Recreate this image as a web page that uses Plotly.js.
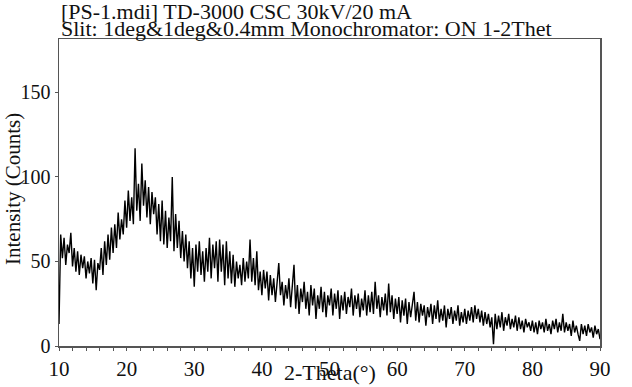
<!DOCTYPE html>
<html lang="en">
<head>
    <meta charset="UTF-8">
    <title>XRD PS-1</title>
    <style>
        body {
            margin: 0;
            background: #fff;
        }

        #plot-container {
            width: 632px;
            height: 387px;
        }
    </style>
</head>
<body>

<div id="plot-container"></div>

<script src="https://cdn.plot.ly/plotly-3.0.1.min.js"></script>
<script>
    // scan start and step (degrees 2-theta)
    var thetaStart = 10;
    var thetaStep = 0.25;

    // intensity, one row per 5 degrees
    var counts = [
        13, 66, 52, 64, 48, 60, 55, 67, 47, 58, 44, 56, 42, 54, 46, 53, 40, 50, 43, 52,
        37, 51, 33, 49, 45, 58, 42, 62, 48, 66, 51, 70, 55, 72, 58, 79, 63, 75, 66, 86,
        70, 92, 74, 88, 72, 117, 80, 96, 74, 108, 83, 98, 76, 94, 72, 91, 78, 88, 66, 84,
        62, 86, 60, 80, 58, 76, 62, 100, 56, 78, 58, 74, 52, 68, 50, 66, 46, 62, 40, 58,
        35, 60, 44, 62, 42, 56, 38, 58, 44, 64, 40, 60, 46, 62, 38, 63, 44, 60, 36, 62,
        40, 56, 37, 54, 35, 50, 40, 48, 36, 52, 38, 50, 40, 63, 38, 52, 36, 56, 33, 44,
        30, 45, 34, 44, 27, 42, 30, 40, 26, 38, 49, 30, 38, 24, 36, 28, 40, 23, 34, 48,
        22, 36, 19, 34, 26, 38, 22, 32, 18, 36, 24, 34, 16, 30, 22, 35, 20, 32, 17, 30,
        24, 34, 18, 31, 22, 33, 16, 30, 21, 32, 19, 29, 23, 34, 18, 30, 22, 31, 17, 28,
        21, 33, 18, 30, 20, 32, 19, 38, 22, 30, 17, 29, 21, 31, 18, 37, 20, 30, 16, 28,
        19, 29, 14, 27, 18, 28, 13, 26, 17, 25, 32, 15, 26, 14, 25, 18, 24, 12, 23, 17,
        25, 13, 24, 16, 27, 14, 22, 15, 24, 11, 22, 16, 23, 13, 21, 15, 24, 12, 20, 14,
        22, 13, 21, 15, 23, 14, 24, 16, 22, 14, 21, 12, 20, 13, 19, 11, 17, 1, 19, 10,
        18, 11, 20, 9, 17, 12, 19, 10, 16, 11, 18, 9, 17, 10, 15, 8, 16, 11, 14, 9,
        15, 8, 14, 7, 15, 10, 14, 8, 16, 9, 13, 7, 15, 10, 16, 8, 14, 9, 19, 8,
        14, 9, 13, 6, 15, 8, 12, 7, 3, 13, 7, 12, 6, 13, 8, 11, 5, 12, 7, 10,
        4
    ];

    var xTicks = [10, 20, 30, 40, 50, 60, 70, 80, 90];
    var yTicks = [0, 50, 100, 150];

    var titleLines = [
        '[PS-1.mdi] TD-3000 CSC 30kV/20 mA',
        'Slit: 1deg&1deg&0.4mm Monochromator: ON 1-2Thet'
    ];
    var xTitle = '2-Theta(°)';
    var yTitle = 'Intensity (Counts)';

    var serif = 'Liberation Serif, Times New Roman, serif';
    var ink = '#111';

    var trace = {
        y: counts,
        x0: thetaStart,
        dx: thetaStep,
        type: 'scatter',
        mode: 'lines',
        line: {color: '#000', width: 1.4},
        showlegend: false
    };

    // text placed as annotations so it can sit where the reference has it
    function note(text, x, y, size, extra) {
        var a = {
            text: text, xref: 'paper', yref: 'paper',
            x: x, y: y, xanchor: 'left', yanchor: 'middle',
            showarrow: false, font: {family: serif, size: size, color: ink}
        };
        for (var k in extra) a[k] = extra[k];
        return a;
    }

    var layout = {
        width: 632,
        height: 387,
        margin: {l: 59, r: 32, t: 39, b: 41},
        paper_bgcolor: '#fff',
        plot_bgcolor: '#fff',
        font: {family: serif, size: 21, color: ink},
        xaxis: {
            range: [10, 90],
            tickvals: xTicks,
            ticks: 'outside',
            ticklen: 3,
            tickcolor: '#555',
            showgrid: false,
            zeroline: false,
            showline: true,
            linecolor: '#555',
            linewidth: 1.5,
            mirror: true,
            tickfont: {family: serif, size: 21, color: ink},
            minor: {dtick: 2, ticks: 'outside', ticklen: 3, tickcolor: '#555'}
        },
        yaxis: {
            range: [0, 181.6],
            tickvals: yTicks,
            ticks: 'outside',
            ticklen: 3,
            tickcolor: '#555',
            showgrid: false,
            zeroline: false,
            showline: true,
            linecolor: '#555',
            linewidth: 1.5,
            mirror: true,
            tickfont: {family: serif, size: 20, color: ink}
        },
        annotations: [
            note(titleLines[0], 0.0, 1.088, 22),
            note(titleLines[1], 0.0, 1.0326, 22),
            note(xTitle, 0.5, -0.086, 22, {xanchor: 'center'}),
            note(yTitle, -0.084, 0.51, 21, {xanchor: 'center', textangle: -90})
        ]
    };

    Plotly.newPlot('plot-container', [trace], layout, {displayModeBar: false, staticPlot: true});
</script>

</body>
</html>
